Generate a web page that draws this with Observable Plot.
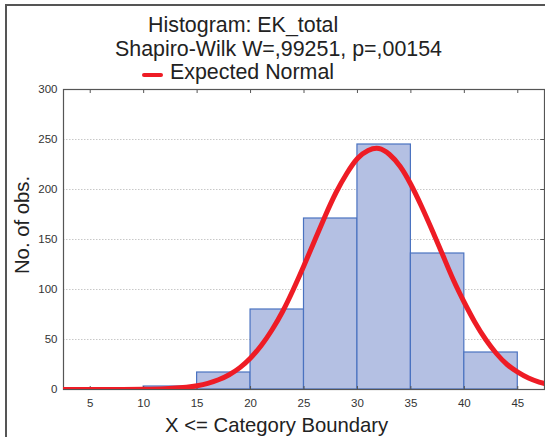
<!DOCTYPE html>
<html>
<head>
<meta charset="utf-8">
<script src="https://cdn.jsdelivr.net/npm/d3@7"></script>
<script src="https://cdn.jsdelivr.net/npm/@observablehq/plot@0.6"></script>
<style>
  html, body { margin: 0; padding: 0; background: #fff; }
  #wrap { position: relative; width: 545px; height: 437px; overflow: hidden; font-family: "Liberation Sans", Arial, sans-serif; color: #222; }
  #wrap svg { position: absolute; left: 0; top: 0; }
  .t { position: absolute; white-space: nowrap; font-size: 21.4px; line-height: 1; }
  #leftline { position: absolute; left: 5px; top: 5px; width: 2px; height: 432px; background: #555; }
  #topline { position: absolute; left: 5px; top: 4px; width: 540px; height: 2px; background: #555; }
</style>
</head>
<body>
<div id="wrap">
  <div id="leftline"></div>
  <div id="topline"></div>
  <div class="t" style="left:148px; top:15px;">Histogram: EK_total</div>
  <div class="t" style="left:115px; top:39px;">Shapiro-Wilk W=,99251, p=,00154</div>
  <div style="position:absolute; left:142px; top:73px; width:21px; height:4px; background:#ee1c25; border-radius:2px;"></div>
  <div class="t" style="left:170px; top:62px;">Expected Normal</div>
  <div class="t" style="left:22px; top:225px; font-size:20.3px; transform: translate(-50%,-50%) rotate(-90deg);">No. of obs.</div>
  <div class="t" style="left:165px; top:415px; font-size:20.3px;">X &lt;= Category Boundary</div>
</div>
<script>
// Histogram bins (upper category boundaries) and counts
const binLow  = [5, 10, 15, 20, 25, 30, 35, 40];
const binHigh = [10, 15, 20, 25, 30, 35, 40, 45];
const counts  = [0, 3, 17, 80, 171, 245, 136, 37];

// Expected normal curve
const curveX = [2.5, 5, 7.5, 10, 12, 14, 15, 16, 17, 18, 19, 20, 21, 22, 23, 24, 25, 26, 27, 28, 29, 30, 31, 32, 33, 34, 35, 36, 37, 38, 39, 40, 41, 42, 43, 44, 45, 46, 47, 47.5];
const curveY = [0, 0, 0.04, 0.2, 0.75, 2.3, 3.8, 6.2, 9.7, 14.8, 21.9, 31.6, 44, 59.5, 78, 100, 124, 149, 174, 197, 216, 231, 239, 241, 235, 223, 205, 183, 159, 134, 109, 87, 67, 50, 36, 25, 17.4, 11.5, 7.4, 6];

const xTicks = [5, 10, 15, 20, 25, 30, 35, 40, 45];
const yTicks = [0, 50, 100, 150, 200, 250, 300];
const gridY = [50, 100, 150, 200, 250];

const bars = counts.map((c, i) => ({x1: binLow[i], x2: binHigh[i], y: c}));
const curve = curveX.map((x, i) => ({x, y: curveY[i]}));

const plot = Plot.plot({
  width: 545,
  height: 437,
  marginTop: 89,
  marginBottom: 48,
  marginLeft: 63,
  marginRight: 1,
  style: {fontFamily: "'Liberation Sans', Arial, sans-serif", fontSize: "11px", color: "#333", background: "transparent", overflow: "visible"},
  x: {domain: [2.5, 47.5], label: null},
  y: {domain: [0, 300], label: null},
  marks: [
    Plot.ruleY(gridY, {stroke: "#c8c8c8", strokeWidth: 1, strokeDasharray: "1.5,1.5"}),
    Plot.rectY(bars, {x1: "x1", x2: "x2", y: "y", fill: "#b4c0e3", stroke: "#4a72c0", strokeWidth: 1.2}),
    Plot.axisX(xTicks, {anchor: "bottom", tickSize: 0, tickPadding: 9, fontSize: 11.5, fill: "#333"}),
    Plot.axisY(yTicks, {anchor: "left", tickSize: 0, tickPadding: 6, fontSize: 11.5, fill: "#333"}),
    Plot.ruleX(xTicks, {y1: 300, y2: 296, stroke: "#555"}),
    Plot.ruleX(xTicks, {y1: 0, y2: 3, stroke: "#555"}),
    Plot.ruleY(yTicks, {x1: 47.5, x2: 47.15, stroke: "#555"}),
    Plot.frame({stroke: "#555", strokeWidth: 1.2}),
    Plot.line(curve, {x: "x", y: "y", stroke: "#ee1c25", strokeWidth: 5, curve: "natural", clip: true})
  ]
});
document.getElementById("wrap").prepend(plot);
</script>
</body>
</html>
